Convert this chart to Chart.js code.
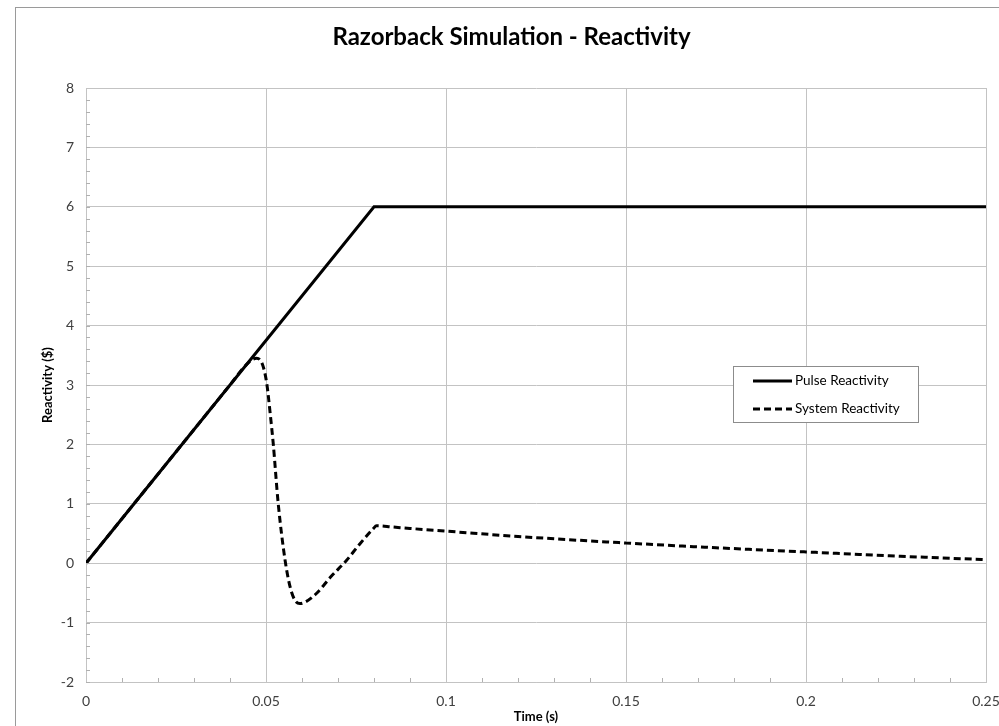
<!DOCTYPE html>
<html>
<head>
<meta charset="utf-8">
<script src="https://cdn.jsdelivr.net/npm/chart.js@4"></script>
<style>
  html, body { margin: 0; padding: 0; background: #fff; }
  #wrap { width: 999px; height: 726px; position: relative; }
</style>
</head>
<body>
<div id="wrap"><canvas id="myChart"></canvas></div>
<script>
// pulse reactivity ($) vs time (s)
const pulseTime = [0, 0.08, 0.25];
const pulseReact = [0, 6, 6];

// system reactivity ($) vs time (s)
const sysTime = [0, 0.01, 0.02, 0.03, 0.04, 0.045, 0.0474, 0.049, 0.0502, 0.0512, 0.052, 0.0534, 0.0553, 0.0567, 0.058, 0.0594, 0.061, 0.064, 0.068, 0.0724, 0.076, 0.0798, 0.0807, 0.085, 0.09, 0.1, 0.12, 0.15, 0.175, 0.2, 0.225, 0.25];
const sysReact = [0, 0.75, 1.5, 2.25, 3.0, 3.37, 3.45, 3.35, 3.03, 2.5, 2.02, 1.0, 0.05, -0.4, -0.62, -0.68, -0.65, -0.51, -0.23, 0.05, 0.32, 0.58, 0.63, 0.61, 0.585, 0.54, 0.45, 0.34, 0.26, 0.19, 0.12, 0.06];

const seriesNames = ["Pulse Reactivity", "System Reactivity"];
const xTicks = [0, 0.05, 0.1, 0.15, 0.2, 0.25];
const yTicks = [-2, -1, 0, 1, 2, 3, 4, 5, 6, 7, 8];

const font = "Lato, 'Open Sans', sans-serif";
const gridColor = "#c3c3c3";

function toPoints(xs, ys) {
    return xs.map((x, i) => ({ x: x, y: ys[i] }));
}

// frame around the whole chart + small minor ticks inside the plot
const extras = {
    id: 'extras',
    beforeDraw(chart) {
        const ctx = chart.ctx;
        ctx.save();
        ctx.fillStyle = '#fff';
        ctx.fillRect(0, 0, chart.width, chart.height);
        ctx.strokeStyle = '#9a9a9a';
        ctx.lineWidth = 1;
        ctx.strokeRect(15.5, 7.5, 1200, 1000);
        ctx.restore();
    },
    afterDatasetsDraw(chart) {
        const ctx = chart.ctx;
        const a = chart.chartArea;
        const xs = chart.scales.x, ys = chart.scales.y;
        ctx.save();
        ctx.strokeStyle = '#b0b0b0';
        ctx.lineWidth = 1;
        ctx.beginPath();
        for (let v = -2; v < 8; v += 0.2) {
            const py = Math.round(ys.getPixelForValue(v)) + 0.5;
            ctx.moveTo(a.left, py);
            ctx.lineTo(a.left + 4, py);
        }
        for (let i = 1; i < 25; i++) {
            if (i % 5 === 0) continue;
            const px = Math.round(xs.getPixelForValue(i / 100)) + 0.5;
            ctx.moveTo(px, a.bottom);
            ctx.lineTo(px, a.bottom - 4);
        }
        ctx.stroke();

        // legend box
        const lx = 733.5, ly = 366.5, lw = 185, lh = 56;
        ctx.fillStyle = '#fff';
        ctx.fillRect(lx, ly, lw, lh);
        ctx.strokeStyle = '#8c8c8c';
        ctx.strokeRect(lx, ly, lw, lh);
        const ds = chart.data.datasets;
        const rows = [381, 409];
        ctx.font = "13.5px " + font;
        ctx.textBaseline = 'middle';
        ds.forEach((d, i) => {
            ctx.strokeStyle = '#000';
            ctx.lineWidth = 3;
            ctx.setLineDash(d.borderDash || []);
            ctx.beginPath();
            ctx.moveTo(753, rows[i]);
            ctx.lineTo(792, rows[i]);
            ctx.stroke();
            ctx.setLineDash([]);
            ctx.fillStyle = '#000';
            ctx.fillText(d.label, 795, rows[i]);
        });
        ctx.restore();
    }
};

const config = {
    type: 'scatter',
    data: {
        datasets: [{
            label: seriesNames[0],
            data: toPoints(pulseTime, pulseReact),
            showLine: true,
            borderColor: '#000',
            borderWidth: 3,
            pointRadius: 0
        }, {
            label: seriesNames[1],
            data: toPoints(sysTime, sysReact),
            showLine: true,
            borderColor: '#000',
            borderWidth: 3,
            borderDash: [7, 4],
            cubicInterpolationMode: 'monotone',
            pointRadius: 0
        }]
    },
    options: {
        responsive: true,
        maintainAspectRatio: false,
        animation: false,
        layout: { padding: { left: 24, right: 0, top: 0, bottom: 0 } },
        plugins: {
            legend: { display: false },
            tooltip: { enabled: false },
            title: {
                display: true,
                text: 'Razorback Simulation - Reactivity',
                color: '#000',
                font: { family: font, size: 24, weight: 'bold', lineHeight: 1.2 },
                padding: { top: 22.6, bottom: 36.6 }
            }
        },
        scales: {
            x: {
                type: 'linear',
                min: 0, max: 0.25,
                afterBuildTicks: s => { s.ticks = xTicks.map(v => ({ value: v })); },
                afterFit: s => { s.height = 44; s.paddingLeft = 0; s.paddingRight = 13; },
                ticks: { color: '#404040', padding: 11, font: { family: font, size: 14 },
                    callback: v => String(v) },
                grid: { color: gridColor, drawTicks: false },
                border: { color: gridColor },
                title: { display: true, text: 'Time (s)', color: '#000',
                    font: { family: font, size: 13, weight: 'bold' }, padding: { top: 0, bottom: 1 } }
            },
            y: {
                min: -2, max: 8,
                afterBuildTicks: s => { s.ticks = yTicks.map(v => ({ value: v })); },
                afterFit: s => { s.width = 62; s.paddingTop = 0; s.paddingBottom = 0; },
                ticks: { color: '#404040', padding: 12, font: { family: font, size: 14 } },
                grid: { color: gridColor, drawTicks: false },
                border: { color: gridColor },
                title: { display: true, text: 'Reactivity ($)', color: '#000',
                    font: { family: font, size: 13, weight: 'bold' }, padding: { top: 16, bottom: 0 } }
            }
        }
    },
    plugins: [extras]
};

const myChart = new Chart(document.getElementById('myChart'), config);
</script>
</body>
</html>
